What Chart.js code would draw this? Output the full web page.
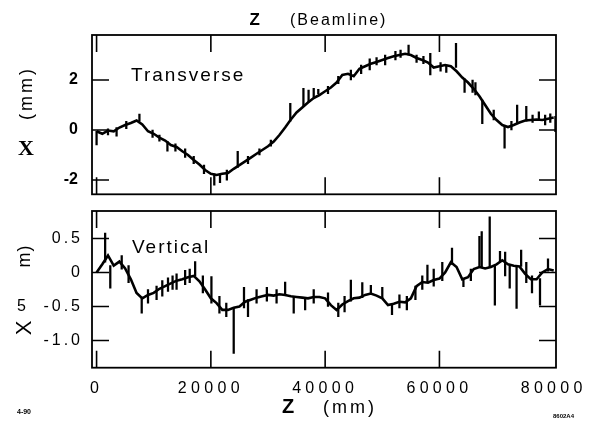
<!DOCTYPE html>
<html><head><meta charset="utf-8">
<script src="https://cdn.jsdelivr.net/npm/chart.js@4/dist/chart.umd.min.js"></script>
<style>
html,body{margin:0;padding:0;background:#fff;}
#wrap{position:relative;width:596px;height:427px;overflow:hidden;font-family:"Liberation Sans",Arial,sans-serif;color:#000;}
canvas{position:absolute;left:0;}
.t{position:absolute;white-space:nowrap;line-height:1;}
.r{transform:translate(-50%,-50%) rotate(-90deg);}
</style></head><body>
<div id="wrap">
<canvas id="cTop" width="596" height="220" style="top:0px"></canvas>
<canvas id="cBot" width="596" height="237" style="top:190px"></canvas>
<div class="t" style="left:249.5px;top:10.6px;font-size:17px;font-weight:bold;">Z</div>
<div class="t" style="left:290px;top:11.5px;font-size:16px;letter-spacing:2px;">(Beamline)</div>
<div class="t" style="left:131px;top:65px;font-size:19px;letter-spacing:2px;">Transverse</div>
<div class="t" style="left:132px;top:237px;font-size:19px;letter-spacing:2px;">Vertical</div>
<div class="t r" style="left:25.5px;top:92.5px;font-size:18px;letter-spacing:3px;">(mm)</div>
<div class="t" style="left:18px;top:136.6px;font-size:22px;font-weight:bold;font-family:'Liberation Serif',serif;">X</div>
<div class="t r" style="left:24px;top:256px;font-size:18px;letter-spacing:1px;">m)</div>
<div class="t" style="left:17px;top:298px;font-size:16px;">5</div>
<div class="t r" style="left:24px;top:328px;font-size:22px;">X</div>
<div class="t" style="left:282px;top:396px;font-size:20px;font-weight:bold;">Z</div>
<div class="t" style="left:323px;top:397.8px;font-size:18px;letter-spacing:3px;">(mm)</div>
<div class="t" style="left:17px;top:407.6px;font-size:7px;font-weight:bold;">4-90</div>
<div class="t" style="left:553px;top:413px;font-size:6px;font-weight:bold;">8602A4</div>
</div>
<script>
// ---- data ----
const zPositions = [0,1000,2000,3000,4000,5000,6000,7000,8000,9000,10000,11000,12000,13000,14000,15000,16000,17000,18000,19000,20000,21000,22000,23000,24000,25000,26000,27000,28000,29000,30000,31000,32000,33000,34000,35000,36000,37000,38000,39000,40000,41000,42000,43000,44000,45000,46000,47000,48000,49000,50000,51000,52000,53000,54000,55000,56000,57000,58000,59000,60000,61000,62000,63000,64000,65000,66000,67000,68000,69000,70000,71000,72000,73000,74000,75000,76000,77000,78000,79000,80000];

const transverseX = [-0.05,-0.15,-0.02,-0.05,0.1,0.2,0.28,0.38,0.22,-0.05,-0.15,-0.3,-0.42,-0.6,-0.68,-0.85,-1.0,-1.2,-1.38,-1.6,-1.75,-1.8,-1.75,-1.72,-1.55,-1.4,-1.25,-1.1,-0.95,-0.8,-0.65,-0.46,-0.2,0.1,0.42,0.7,0.9,1.1,1.28,1.4,1.55,1.7,1.9,2.2,2.25,2.15,2.45,2.55,2.65,2.72,2.8,2.88,2.95,3.0,3.05,3.0,2.88,2.8,2.7,2.5,2.55,2.6,2.55,2.35,2.1,1.9,1.65,1.35,1.0,0.65,0.4,0.2,0.12,0.2,0.3,0.38,0.4,0.42,0.4,0.45,0.5];

const verticalX = [0.0,0.12,0.25,0.1,0.16,0.06,-0.1,-0.3,-0.38,-0.33,-0.3,-0.24,-0.2,-0.16,-0.12,-0.1,-0.07,-0.05,-0.13,-0.25,-0.38,-0.45,-0.55,-0.55,-0.52,-0.5,-0.43,-0.4,-0.37,-0.35,-0.33,-0.34,-0.32,-0.33,-0.35,-0.36,-0.37,-0.38,-0.36,-0.36,-0.38,-0.48,-0.55,-0.47,-0.42,-0.38,-0.37,-0.33,-0.31,-0.34,-0.38,-0.48,-0.46,-0.43,-0.44,-0.38,-0.2,-0.14,-0.15,-0.11,-0.09,0.0,0.15,0.08,-0.1,-0.07,0.05,0.08,0.06,0.08,0.12,0.18,0.12,0.1,0.09,-0.02,-0.1,-0.1,0.0,0.05,0.03];

// spikes (z position, low end, high end)
const transverseSpikeZ  = [0,2000,3500,5200,7500,9800,11000,12400,13800,15500,17000,18800,20600,21600,22800,24700,26500,28500,30500,33900,36200,37100,38000,38800,40500,42300,44500,46300,47800,49000,50500,52300,53200,54600,56000,57200,58400,60200,61200,62900,64400,65800,66300,67500,69500,71400,72600,73600,75200,76300,77400,78500,79400,80300];
const transverseSpikeLo = [-0.6,-0.2,-0.25,0.05,0.35,-0.3,-0.45,-0.85,-0.85,-1.1,-1.35,-1.75,-2.2,-2.1,-2.0,-1.5,-1.35,-1.0,-0.65,0.35,0.95,1.12,1.3,1.45,1.45,1.85,2.0,2.25,2.4,2.6,2.6,2.8,2.9,3.0,2.7,2.65,2.2,2.35,2.3,2.5,1.5,1.5,1.4,0.25,0.4,-0.73,0.0,0.25,0.35,0.3,0.4,0.2,0.3,-0.07];
const transverseSpikeHi = [-0.05,0.05,0.1,0.35,0.64,0.0,-0.2,-0.45,-0.55,-0.75,-1.05,-1.4,-1.75,-1.78,-1.6,-0.85,-1.05,-0.75,-0.4,1.07,1.67,1.6,1.67,1.63,1.75,2.15,2.4,2.6,2.85,2.9,3.0,3.15,3.2,3.4,3.0,2.95,3.07,2.7,2.6,3.47,2.05,2.0,1.9,1.2,0.8,0.15,0.35,1.0,0.95,0.6,0.73,0.6,0.65,0.55];

const verticalSpikeZ  = [1500,2400,4400,5600,7900,9000,10500,11500,12500,13300,14000,15500,16300,17250,18600,20100,21500,22700,24000,25800,26500,28000,29800,31500,33000,34500,36500,38000,40500,42300,43400,44500,46500,48000,50000,51700,53000,54300,55800,57000,57900,59000,60500,62200,64200,65500,67000,67400,68800,69700,70600,71500,72300,73500,74300,75200,76200,77600,79000];
const verticalSpikeLo = [0.15,-0.23,0.05,-0.15,-0.6,-0.45,-0.4,-0.35,-0.28,-0.25,-0.25,-0.18,-0.15,-0.05,-0.3,-0.45,-0.6,-0.65,-1.19,-0.52,-0.65,-0.45,-0.42,-0.45,-0.34,-0.6,-0.55,-0.45,-0.5,-0.65,-0.58,-0.42,-0.37,-0.31,-0.38,-0.62,-0.52,-0.55,-0.4,-0.25,-0.15,-0.2,-0.12,0.12,-0.21,-0.12,0.07,0.07,0.08,-0.48,0.15,-0.05,-0.23,-0.53,0.09,-0.15,-0.3,-0.48,0.02];
const verticalSpikeHi = [0.58,0.1,0.25,0.1,-0.36,-0.25,-0.2,-0.12,-0.08,-0.05,-0.02,0.03,0.05,0.16,-0.05,-0.06,-0.35,-0.45,-0.52,-0.22,-0.4,-0.25,-0.22,-0.25,-0.14,-0.35,-0.37,-0.25,-0.3,-0.45,-0.35,-0.11,-0.15,-0.19,-0.22,-0.48,-0.33,-0.35,-0.2,-0.05,0.11,0.05,0.15,0.36,-0.1,0.05,0.53,0.6,0.82,0.1,0.31,0.3,0.12,0.09,0.33,0.15,-0.05,-0.09,0.2];

const zTicks = [0,20000,40000,60000,80000];
const zTickLabels = ['0','20000','40000','60000','80000'];
const transverseTicks = [-2,0,2];
const transverseTickLabels = ['-2','0','2'];
const verticalTicks = [-1.0,-0.5,0,0.5];
const verticalTickLabels = ['-1.0','-0.5','0','0.5'];

// ---- chart construction ----
const FONT = "'Liberation Sans', Arial, sans-serif";
const toPts = (xs, ys) => xs.map((x, i) => ({x: x, y: ys[i]}));
const toBars = (xs, lo, hi) => xs.map((x, i) => ({x: x, y: [lo[i], hi[i]]}));

const frameTicks = {
  id: 'frameTicks',
  afterDatasetsDraw(chart) {
    const {ctx, chartArea: a, scales} = chart;
    const L = 17;
    ctx.save();
    ctx.strokeStyle = '#000';
    ctx.lineWidth = 1.8;
    ctx.strokeRect(a.left, a.top, a.right - a.left, a.bottom - a.top);
    ctx.lineWidth = 1.6;
    ctx.beginPath();
    scales.x.ticks.forEach(t => {
      const px = scales.x.getPixelForValue(t.value);
      if (px <= a.left + 2 || px >= a.right - 6) return;
      ctx.moveTo(px, a.top); ctx.lineTo(px, a.top + L);
      ctx.moveTo(px, a.bottom); ctx.lineTo(px, a.bottom - L);
    });
    scales.y.ticks.forEach(t => {
      const py = scales.y.getPixelForValue(t.value);
      ctx.moveTo(a.left, py); ctx.lineTo(a.left + L, py);
      ctx.moveTo(a.right, py); ctx.lineTo(a.right - L, py);
    });
    ctx.stroke();
    ctx.restore();
  }
};
// wider letter spacing for the old plotter lettering of the bottom tick labels
const spacing = {
  id: 'spacing',
  afterUpdate(chart) {
    [['x', '4.3px'], ['y', '3px']].forEach(([id, sp]) => {
      const s = chart.scales[id];
      if (!s || s._spaced) return;
      const orig = s.drawLabels.bind(s);
      s.drawLabels = function (area) {
        const c = this.ctx, prev = c.letterSpacing;
        c.letterSpacing = sp;
        orig(area);
        c.letterSpacing = prev || '0px';
      };
      s._spaced = true;
    });
  }
};

function makeChart(id, lineVals, spZ, spLo, spHi, yMin, yMax, yTicks, yLabels, yBold, showX, padding, extraPlugins) {
  return new Chart(document.getElementById(id), {
    type: 'line',
    data: {
      datasets: [
        {type: 'line', data: toPts(zPositions, lineVals), borderColor: '#000', borderWidth: 2.6,
         pointRadius: 0, tension: 0, fill: false},
        {type: 'bar', data: toBars(spZ, spLo, spHi), backgroundColor: '#000', borderWidth: 0,
         barThickness: 1.6}
      ]
    },
    options: {
      responsive: false, animation: false, devicePixelRatio: 1,
      layout: {padding: padding},
      plugins: {legend: {display: false}, tooltip: {enabled: false}, title: {display: false}},
      scales: {
        x: {
          type: 'linear', min: -800, max: 80400, offset: false, display: showX,
          grid: {display: false, drawTicks: false}, border: {display: false},
          afterBuildTicks: s => { s.ticks = zTicks.map(v => ({value: v})); },
          afterFit: s => { if (showX) s.height = 40; },
          ticks: {color: '#000', padding: 11, maxRotation: 0, autoSkip: false,
                  font: {family: FONT, size: 16},
                  callback: (v, i) => zTickLabels[i]}
        },
        y: {
          type: 'linear', min: yMin, max: yMax,
          grid: {display: false, drawTicks: false}, border: {display: false},
          afterBuildTicks: s => { s.ticks = yTicks.map(v => ({value: v})); },
          afterFit: s => { s.width = 92; },
          ticks: {color: '#000', padding: yBold ? 14 : 9,
                  font: {family: FONT, size: 16, weight: yBold ? 'bold' : 'normal'},
                  callback: (v, i) => yLabels[i]}
        }
      }
    },
    plugins: [frameTicks].concat(extraPlugins)
  });
}

makeChart('cTop', transverseX, transverseSpikeZ, transverseSpikeLo, transverseSpikeHi,
  -2.57, 3.8, transverseTicks, transverseTickLabels, true, false,
  {top: 35, right: 40, bottom: 25.7, left: 0}, []);
makeChart('cBot', verticalX, verticalSpikeZ, verticalSpikeLo, verticalSpikeHi,
  -1.40, 0.904, verticalTicks, verticalTickLabels, false, true,
  {top: 21, right: 40, bottom: 19.3, left: 0}, [spacing]);
</script>
</body></html>
